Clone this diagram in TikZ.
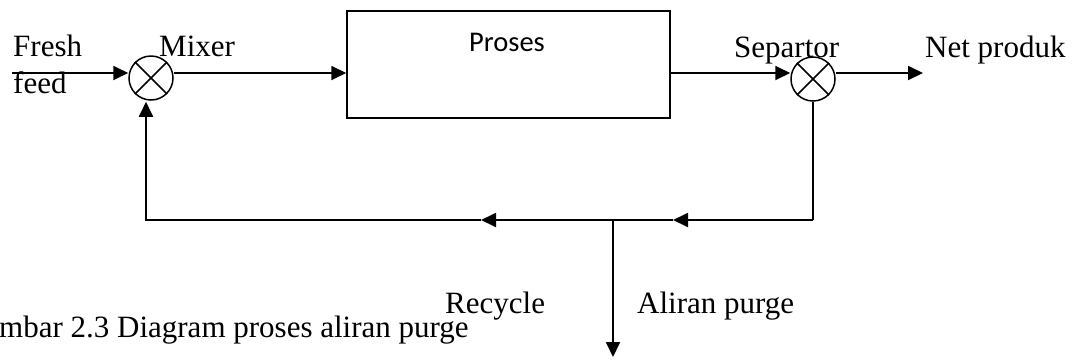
\documentclass[tikz,border=0pt]{standalone}
\usepackage{fontspec}
\setmainfont{Liberation Serif}
\newfontfamily\calfont{Carlito}
\usetikzlibrary{arrows.meta}
\begin{document}
\begin{tikzpicture}[x=1pt,y=-1pt,
  lbl/.style={anchor=base west,inner sep=0pt,font=\fontsize{31}{36}\selectfont},
  flow/.style={line width=1.8pt},
  arr/.style={flow,-{Triangle[length=15pt,width=14pt]}},
  junction/.style={circle,draw,line width=1.5pt,minimum size=44pt,inner sep=0pt},
  procbox/.style={draw,line width=1.5pt,rectangle,inner sep=0pt}]
\useasboundingbox (0,0) rectangle (1076,360);
% boxes and junctions
\node[procbox,minimum width=323pt,minimum height=107pt] (proses) at (508.5,64.5) {};
\node[font=\calfont\fontsize{28.5}{34}\selectfont,inner sep=0pt] (prosestxt) at (507,42) {Proses};
\node[junction] (mixer) at (151,78) {};
\node[junction] (sep) at (813,79) {};
\draw[line width=1.5pt] (mixer.north west) -- (mixer.south east) (mixer.north east) -- (mixer.south west);
\draw[line width=1.5pt] (sep.north west) -- (sep.south east) (sep.north east) -- (sep.south west);
% labels
\node[lbl] (fresh) at (13,56) {Fresh};
\node[lbl] (feed) at (13,93) {feed};
\node[lbl] (mixl) at (159,56) {Mixer};
\node[lbl] (sepl) at (734,57) {Separtor};
\node[lbl] (netl) at (925,57) {Net produk};
\node[lbl] (recl) at (445,313) {Recycle};
\node[lbl] (purl) at (637,313) {Aliran purge};
\node[lbl] (cap) at (-1,337) {mbar 2.3 Diagram proses aliran purge};
% coordinates
\coordinate (row) at (0,73);
\coordinate (ffstart) at (12,73);
\coordinate (netend) at (923,73);
\coordinate (bR) at (813,220);
\coordinate (bL) at (146,220);
\coordinate (j) at (613,220);
\coordinate (a1) at (673,220);
\coordinate (a2) at (481,220);
\coordinate (pend) at (613,357);
% connectors
\draw[arr] (ffstart) -- (ffstart -| mixer.west);
\draw[arr] (row -| mixer.east) -- (row -| proses.west);
\draw[arr] (row -| proses.east) -- (row -| sep.west);
\draw[arr] (row -| sep.east) -- (netend);
\draw[flow] (sep.south) -- (bR);
\draw[arr] (bR) -- (a1);
\draw[flow] (a1) -- (j);
\draw[arr] (j) -- (a2);
\draw[arr] (a2) -- (bL) -- ([yshift=-1pt]bL |- mixer.south);
\draw[arr] (j) -- (pend);
\end{tikzpicture}
\end{document}
